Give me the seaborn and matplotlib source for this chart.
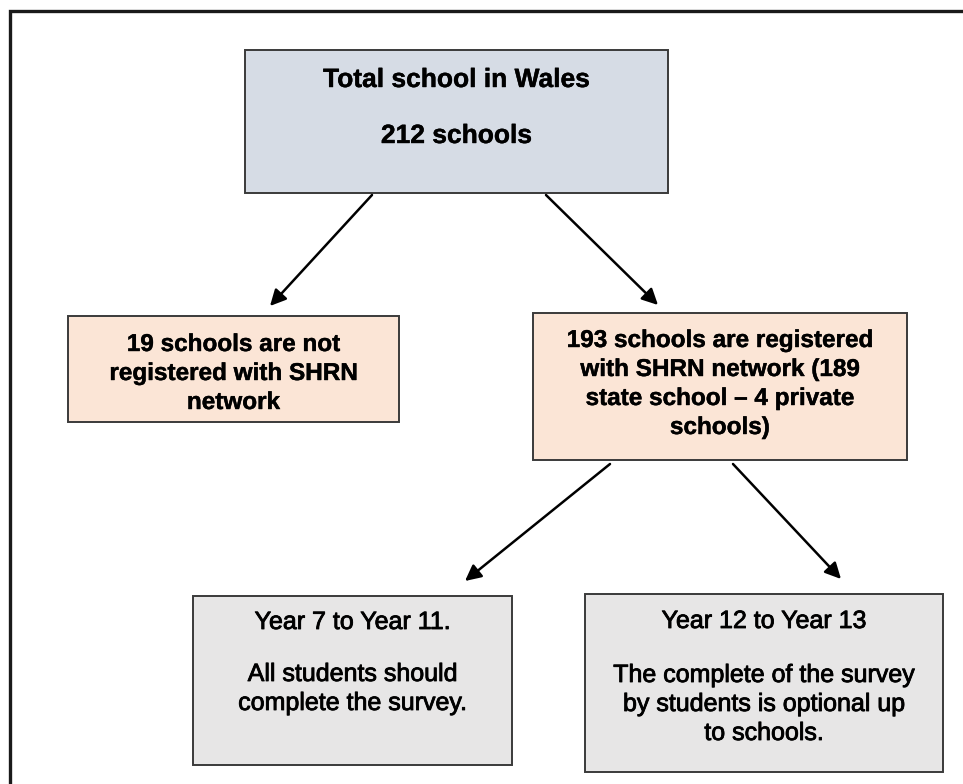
import matplotlib
matplotlib.use("Agg")
import matplotlib.pyplot as plt
from matplotlib.patches import Rectangle
import matplotlib.patheffects as pe
import seaborn as sns

# ---- data (text content of the flow chart) ----
total_schools = 212
not_registered = 19
registered = 193
state_schools = 189
private_schools = 4

top_lines = ["Total school in Wales", f"{total_schools} schools"]
left_mid_lines = [f"{not_registered} schools are not", "registered with SHRN", "network"]
right_mid_lines = [f"{registered} schools are registered", f"with SHRN network ({state_schools}",
                   f"state school \u2013 {private_schools} private", "schools)"]
bottom_left_lines = ["Year 7 to Year 11.", "All students should", "complete the survey."]
bottom_right_lines = ["Year 12 to Year 13", "The complete of the survey",
                      "by students is optional up", "to schools."]

# ---- layout (pixel coordinates, y downwards) ----
boxes = {
    "top":   dict(x0=245, x1=668, y0=50,  y1=193, fc="#D6DCE5", lines=top_lines,
                  base=[87, 143], size=19, weight="bold", stroke=0.3),
    "lmid":  dict(x0=68,  x1=399, y0=316, y1=422, fc="#FBE5D6", lines=left_mid_lines,
                  base=[351, 380, 409], size=17.5, weight="bold", stroke=0.3),
    "rmid":  dict(x0=533, x1=907, y0=313, y1=460, fc="#FBE5D6", lines=right_mid_lines,
                  base=[347, 376, 405, 434], size=17.5, weight="bold", stroke=0.3),
    "lbot":  dict(x0=193, x1=512, y0=596, y1=765, fc="#E7E6E6", lines=bottom_left_lines,
                  base=[629, 681, 710], size=18, weight="normal", stroke=0.6),
    "rbot":  dict(x0=585, x1=943, y0=594, y1=772, fc="#E7E6E6", lines=bottom_right_lines,
                  base=[628, 682, 711, 740], size=18, weight="normal", stroke=0.6),
}
arrows = [((372, 195), (270, 306)),
          ((546, 195), (658, 305)),
          ((610, 464), (465, 581)),
          ((733, 464), (841, 579))]

sns.set_theme(style="white")
plt.rcParams["font.family"] = ["Liberation Sans", "DejaVu Sans"]

W, H = 963, 784
fig = plt.figure(figsize=(W / 100, H / 100), dpi=100)
ax = fig.add_axes([0, 0, 1, 1])
ax.set_xlim(0, W)
ax.set_ylim(H, 0)
ax.axis("off")

# outer frame (only left and top edges visible)
ax.plot([9.5, 9.5, W], [H, 11, 11], color="#1a1a1a", lw=2.4, solid_joinstyle="miter")

for b in boxes.values():
    ax.add_patch(Rectangle((b["x0"], b["y0"]), b["x1"] - b["x0"], b["y1"] - b["y0"],
                           facecolor=b["fc"], edgecolor="#3a3a3a", lw=1.4))
    cx = (b["x0"] + b["x1"]) / 2
    for line, yb in zip(b["lines"], b["base"]):
        ax.text(cx, yb, line, ha="center", va="baseline", fontsize=b["size"],
                fontweight=b["weight"], color="#000000",
                path_effects=[pe.withStroke(linewidth=b["stroke"], foreground="#000000")])

for start, tip in arrows:
    ax.annotate("", xy=tip, xytext=start,
                arrowprops=dict(arrowstyle="-|>", color="black", lw=1.8,
                                mutation_scale=24, shrinkA=0, shrinkB=0))

fig.savefig("out.png", dpi=100)
